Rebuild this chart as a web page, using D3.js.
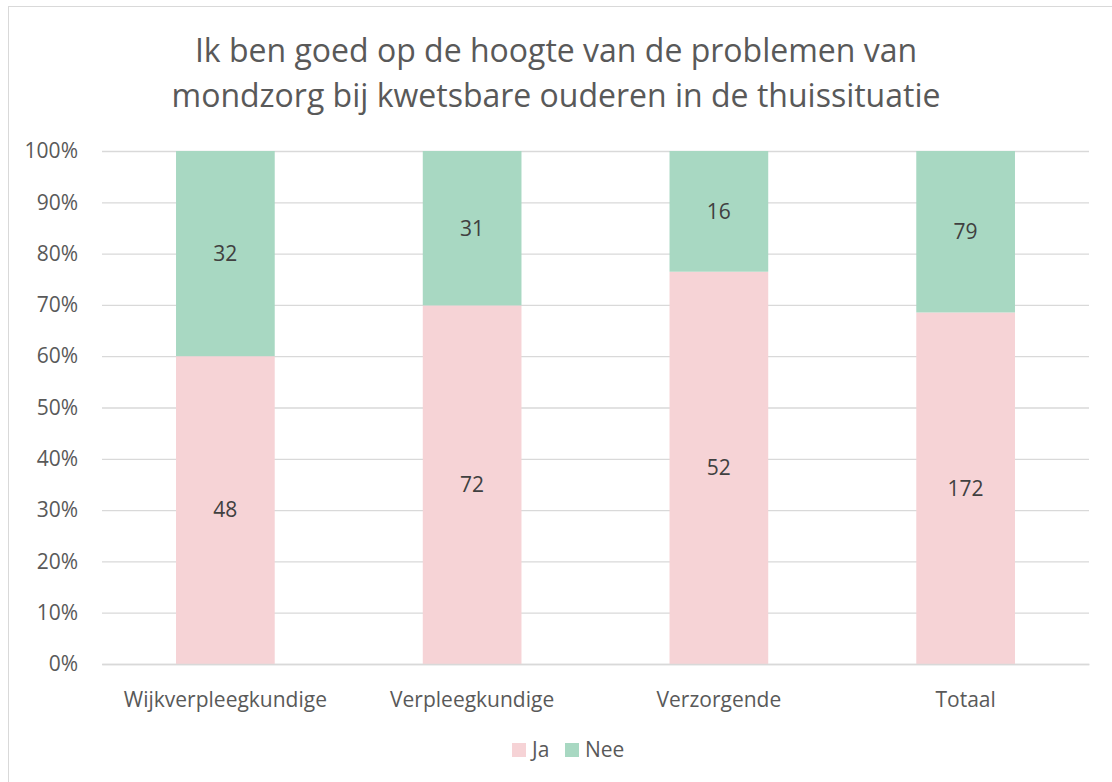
<!DOCTYPE html>
<html>
<head>
<meta charset="utf-8">
<script src="https://cdn.jsdelivr.net/npm/d3@7"></script>
<style>
  body { margin: 0; background: #fff; }
  svg { display: block; }
  svg text { font-family: "Open Sans", sans-serif; }
</style>
</head>
<body>
<svg id="chart" width="1112" height="782"></svg>
<script>
const categories = ['Wijkverpleegkundige', 'Verpleegkundige', 'Verzorgende', 'Totaal'];
const ja = [48, 72, 52, 172];
const nee = [32, 31, 16, 79];
const seriesNames = ['Ja', 'Nee'];
const colors = ['#F6D3D6', '#A8D8C2'];
const titleLines = ['Ik ben goed op de hoogte van de problemen van', 'mondzorg bij kwetsbare ouderen in de thuissituatie'];

const svg = d3.select('#chart');
const margin = {left: 102, right: 23, top: 151, bottom: 118};
const width = 1112 - margin.left - margin.right;
const height = 782 - margin.top - margin.bottom;

// chart frame
svg.append('rect').attr('x', 8.5).attr('y', 6.5).attr('width', 1120).attr('height', 800)
  .attr('fill', 'none').attr('stroke', '#d9d9d9').attr('stroke-width', 1);

svg.append('text').attr('x', 556).attr('text-anchor', 'middle')
  .attr('fill', '#595959').style('font-size', '32px')
  .selectAll('tspan').data(titleLines).join('tspan')
  .attr('x', 556).attr('y', (d, i) => 62 + i * 45).text(d => d);

const g = svg.append('g').attr('transform', `translate(${margin.left},${margin.top})`);

const x = d3.scaleBand().domain(categories).range([0, width]).paddingInner(0.6).paddingOuter(0.3);
const y = d3.scaleLinear().domain([0, 1]).range([height, 0]);

const rows = categories.map((c, i) => ({cat: c, Ja: ja[i], Nee: nee[i], total: ja[i] + nee[i]}));
const stacked = d3.stack().keys(seriesNames)
  .value((d, k) => d[k] / d.total)(rows);

// gridlines + y axis
const yAxis = d3.axisLeft(y).ticks(10).tickFormat(d3.format('.0%')).tickSize(-width).tickPadding(24);
const ya = g.append('g').call(yAxis).attr('font-family', null);
ya.select('.domain').remove();
ya.selectAll('line').attr('stroke', '#d9d9d9').attr('stroke-width', 1.3);
ya.selectAll('text').attr('fill', '#595959').style('font-size', '21px');

// bars
const layers = g.selectAll('g.layer').data(stacked).join('g').attr('class', 'layer')
  .attr('fill', (d, i) => colors[i]);
layers.selectAll('rect').data(d => d).join('rect')
  .attr('x', d => x(d.data.cat))
  .attr('width', x.bandwidth())
  .attr('y', d => y(d[1]))
  .attr('height', d => y(d[0]) - y(d[1]));

// data labels
layers.selectAll('text').data((d, i) => d.map(v => ({v, key: seriesNames[i]}))).join('text')
  .attr('x', d => x(d.v.data.cat) + x.bandwidth() / 2)
  .attr('y', d => (y(d.v[0]) + y(d.v[1])) / 2)
  .attr('dy', '0.35em')
  .attr('text-anchor', 'middle')
  .attr('fill', '#404040').style('font-size', '21px')
  .text(d => d.v.data[d.key]);

// x axis
const xa = g.append('g').attr('transform', `translate(0,${height})`)
  .call(d3.axisBottom(x).tickSize(0).tickPadding(28)).attr('font-family', null);
xa.select('.domain').attr('stroke', '#d9d9d9').attr('stroke-width', 1.3);
xa.selectAll('text').attr('fill', '#595959').style('font-size', '21px');

// legend
const legend = svg.append('g').attr('transform', 'translate(512,743)');
const items = legend.selectAll('g').data(seriesNames).join('g')
  .attr('transform', (d, i) => `translate(${i * 53},0)`);
items.append('rect').attr('width', 14).attr('height', 14).attr('fill', (d, i) => colors[i]);
items.append('text').attr('x', 20).attr('y', 7).attr('dy', '0.35em')
  .attr('fill', '#595959').style('font-size', '21px').text(d => d);
</script>
</body>
</html>
